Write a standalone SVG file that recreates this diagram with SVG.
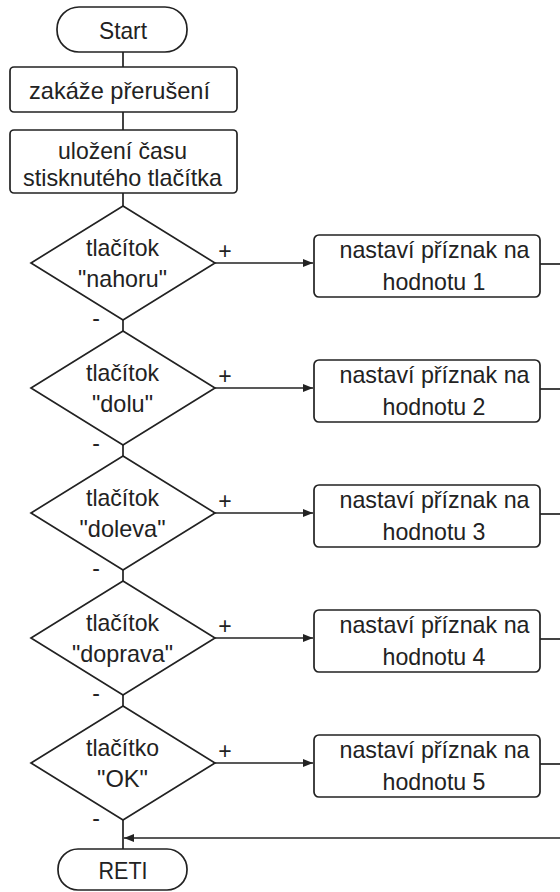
<svg xmlns="http://www.w3.org/2000/svg" width="560" height="892" viewBox="0 0 560 892">
<style>
.s{fill:#fff;stroke:#222;stroke-width:1.7}
.c{fill:none;stroke:#222;stroke-width:1.7}
text{font-family:"Liberation Sans",Arial,sans-serif;font-size:24px;fill:#222;text-anchor:middle}
.sg{font-size:23px}
</style>
<defs>
<marker id="ah" markerUnits="userSpaceOnUse" markerWidth="10" markerHeight="10" viewBox="0 0 10 10" refX="10" refY="5" orient="auto">
<path d="M0,1 L10,5 L0,9 Z" fill="#222"/>
</marker>
</defs>
<g id="connectors">
<line class="c" x1="123" y1="52" x2="123" y2="67"/>
<line class="c" x1="123" y1="112" x2="123" y2="130"/>
<line class="c" x1="123" y1="193" x2="123" y2="206"/>
<line class="c" x1="123" y1="320" x2="123" y2="331"/>
<line class="c" x1="123" y1="445" x2="123" y2="456"/>
<line class="c" x1="123" y1="570" x2="123" y2="581"/>
<line class="c" x1="123" y1="695" x2="123" y2="706"/>
<line class="c" x1="123" y1="820" x2="123" y2="849"/>
<line class="c" x1="215" y1="263" x2="313" y2="263" marker-end="url(#ah)"/>
<line class="c" x1="215" y1="388" x2="313" y2="388" marker-end="url(#ah)"/>
<line class="c" x1="215" y1="513" x2="313" y2="513" marker-end="url(#ah)"/>
<line class="c" x1="215" y1="638" x2="313" y2="638" marker-end="url(#ah)"/>
<line class="c" x1="215" y1="763" x2="313" y2="763" marker-end="url(#ah)"/>
<line class="c" x1="540" y1="264" x2="560" y2="264"/>
<line class="c" x1="540" y1="389" x2="560" y2="389"/>
<line class="c" x1="540" y1="514" x2="560" y2="514"/>
<line class="c" x1="540" y1="639" x2="560" y2="639"/>
<line class="c" x1="540" y1="764" x2="560" y2="764"/>
<line class="c" x1="560" y1="838" x2="124" y2="838" marker-end="url(#ah)"/>
<text class="sg" x="225" y="259">+</text>
<text class="sg" x="225" y="384">+</text>
<text class="sg" x="225" y="509">+</text>
<text class="sg" x="225" y="634">+</text>
<text class="sg" x="225" y="759">+</text>
<text class="sg" x="96" y="326">-</text>
<text class="sg" x="96" y="451">-</text>
<text class="sg" x="96" y="576">-</text>
<text class="sg" x="96" y="701">-</text>
<text class="sg" x="96" y="826">-</text>
</g>
<g id="start">
<rect class="s" x="57" y="7" width="130" height="45" rx="22"/>
<text x="123" y="39" textLength="48" lengthAdjust="spacingAndGlyphs">Start</text>
</g>
<g id="disable">
<rect class="s" x="10" y="67" width="227" height="45" rx="4"/>
<text x="119.5" y="99" textLength="181" lengthAdjust="spacingAndGlyphs">zakáže přerušení</text>
</g>
<g id="savetime">
<rect class="s" x="10" y="130" width="227" height="63" rx="4"/>
<text x="122.5" y="159" textLength="129" lengthAdjust="spacingAndGlyphs">uložení času</text>
<text x="122.5" y="186" textLength="199" lengthAdjust="spacingAndGlyphs">stisknutého tlačítka</text>
</g>
<g id="d1">
<polygon class="s" points="123,206 215,263 123,320 31,263"/>
<text x="122.5" y="256" textLength="73" lengthAdjust="spacingAndGlyphs">tlačítok</text>
<text x="122.5" y="287" textLength="89" lengthAdjust="spacingAndGlyphs">"nahoru"</text>
</g>
<g id="p1">
<rect class="s" x="314" y="235" width="226" height="62" rx="5"/>
<text x="434.5" y="258" textLength="190" lengthAdjust="spacingAndGlyphs">nastaví příznak na</text>
<text x="434" y="290" textLength="103" lengthAdjust="spacingAndGlyphs">hodnotu 1</text>
</g>
<g id="d2">
<polygon class="s" points="123,331 215,388 123,445 31,388"/>
<text x="122.5" y="381" textLength="73" lengthAdjust="spacingAndGlyphs">tlačítok</text>
<text x="122.5" y="412" textLength="61" lengthAdjust="spacingAndGlyphs">"dolu"</text>
</g>
<g id="p2">
<rect class="s" x="314" y="360" width="226" height="62" rx="5"/>
<text x="434.5" y="383" textLength="190" lengthAdjust="spacingAndGlyphs">nastaví příznak na</text>
<text x="434" y="415" textLength="103" lengthAdjust="spacingAndGlyphs">hodnotu 2</text>
</g>
<g id="d3">
<polygon class="s" points="123,456 215,513 123,570 31,513"/>
<text x="122.5" y="506" textLength="73" lengthAdjust="spacingAndGlyphs">tlačítok</text>
<text x="122.5" y="537" textLength="86" lengthAdjust="spacingAndGlyphs">"doleva"</text>
</g>
<g id="p3">
<rect class="s" x="314" y="485" width="226" height="62" rx="5"/>
<text x="434.5" y="508" textLength="190" lengthAdjust="spacingAndGlyphs">nastaví příznak na</text>
<text x="434" y="540" textLength="103" lengthAdjust="spacingAndGlyphs">hodnotu 3</text>
</g>
<g id="d4">
<polygon class="s" points="123,581 215,638 123,695 31,638"/>
<text x="122.5" y="631" textLength="73" lengthAdjust="spacingAndGlyphs">tlačítok</text>
<text x="122.5" y="662" textLength="101" lengthAdjust="spacingAndGlyphs">"doprava"</text>
</g>
<g id="p4">
<rect class="s" x="314" y="610" width="226" height="62" rx="5"/>
<text x="434.5" y="633" textLength="190" lengthAdjust="spacingAndGlyphs">nastaví příznak na</text>
<text x="434" y="665" textLength="103" lengthAdjust="spacingAndGlyphs">hodnotu 4</text>
</g>
<g id="d5">
<polygon class="s" points="123,706 215,763 123,820 31,763"/>
<text x="122.5" y="756" textLength="73" lengthAdjust="spacingAndGlyphs">tlačítko</text>
<text x="122.5" y="787" textLength="51" lengthAdjust="spacingAndGlyphs">"OK"</text>
</g>
<g id="p5">
<rect class="s" x="314" y="735" width="226" height="62" rx="5"/>
<text x="434.5" y="758" textLength="190" lengthAdjust="spacingAndGlyphs">nastaví příznak na</text>
<text x="434" y="790" textLength="103" lengthAdjust="spacingAndGlyphs">hodnotu 5</text>
</g>
<g id="reti">
<rect class="s" x="58" y="849" width="129" height="41" rx="20"/>
<text x="123" y="879" textLength="49" lengthAdjust="spacingAndGlyphs">RETI</text>
</g>
</svg>
